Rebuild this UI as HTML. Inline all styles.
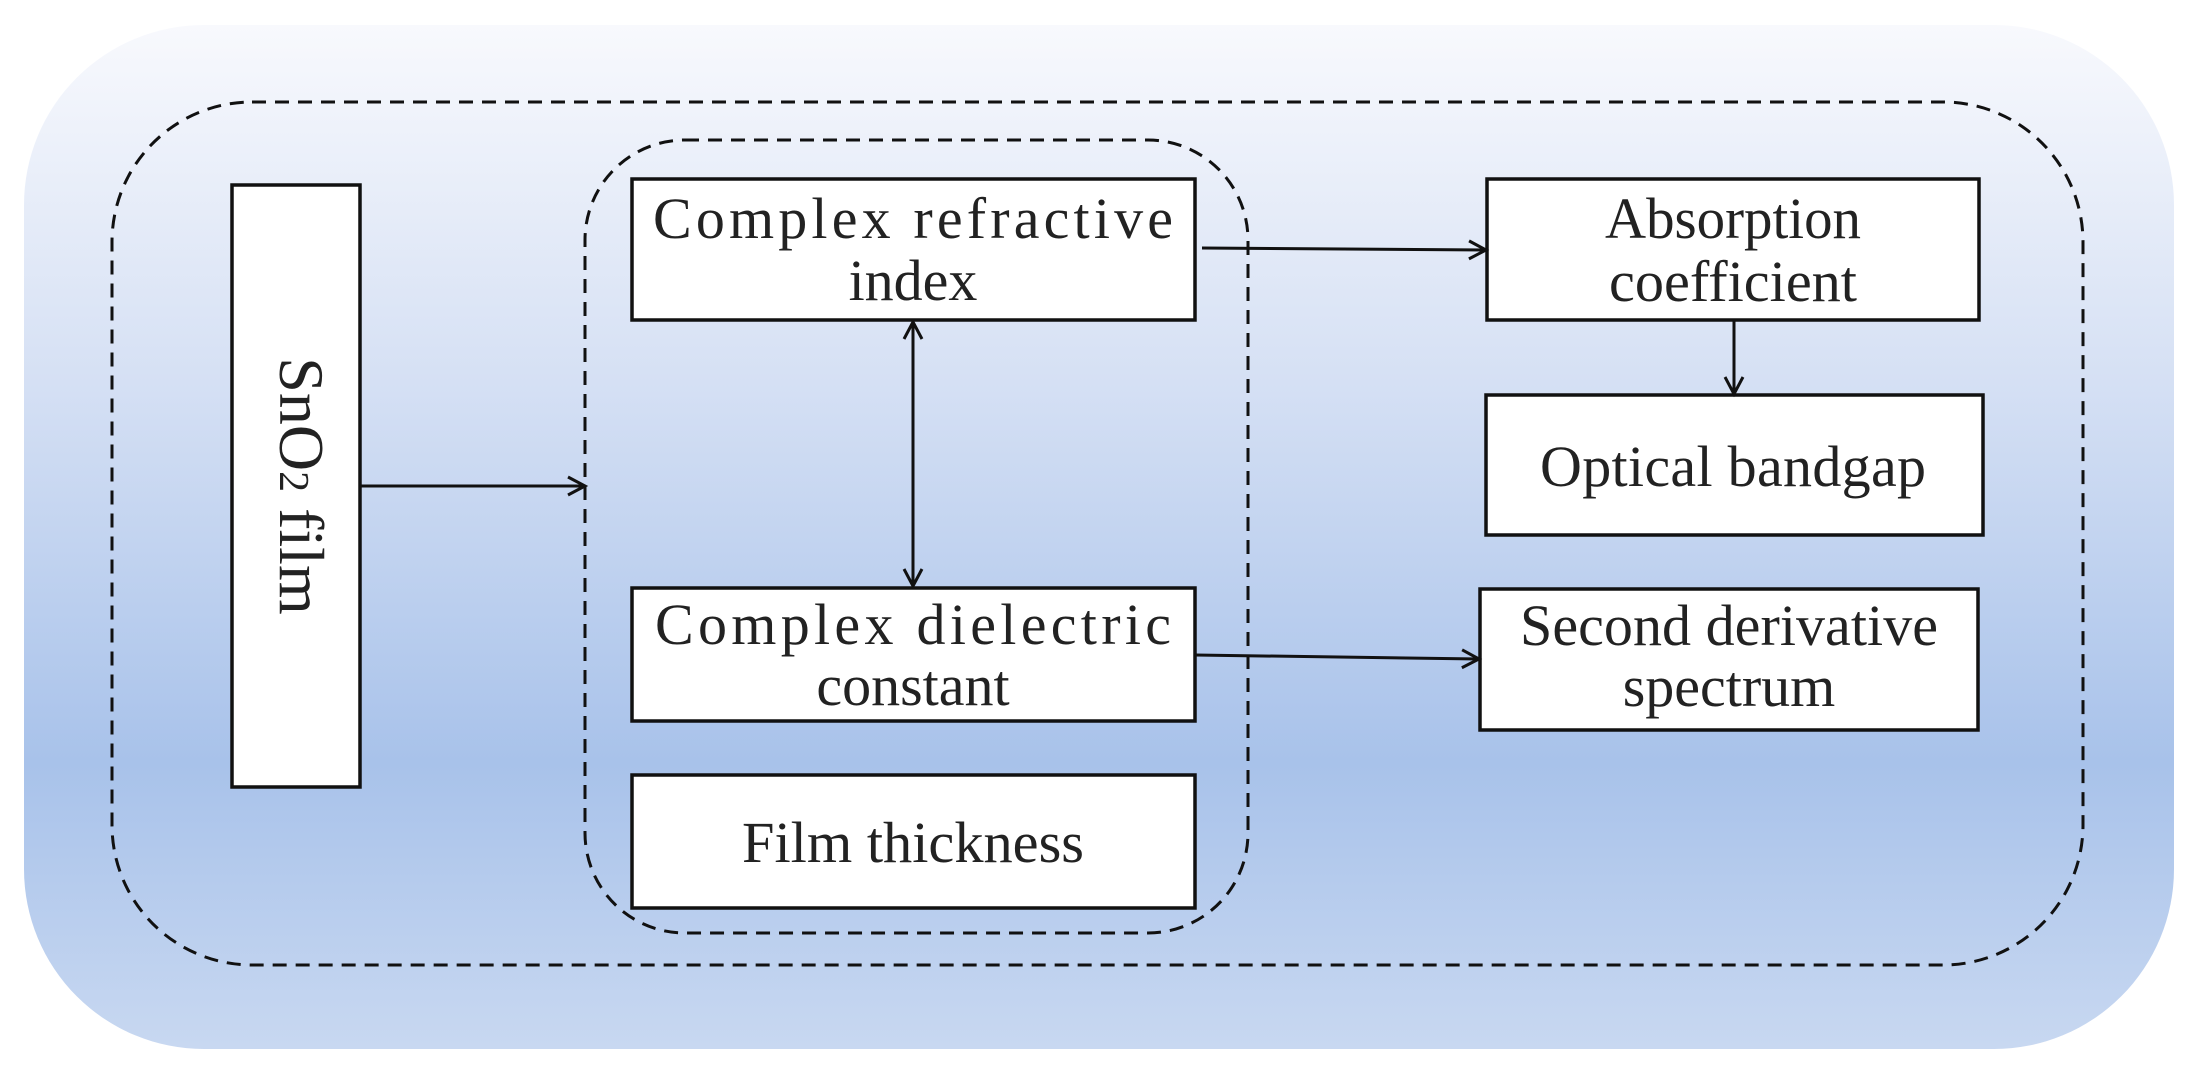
<!DOCTYPE html>
<html><head><style>
html,body{margin:0;padding:0;background:#fff;}
body{width:2199px;height:1078px;position:relative;overflow:hidden;font-family:"Liberation Serif",serif;}
</style></head><body>
<svg width="2199" height="1078" xmlns="http://www.w3.org/2000/svg" style="position:absolute;left:0;top:0">
<defs>
<linearGradient id="g" x1="0" y1="0" x2="0" y2="1">
<stop offset="0" stop-color="#f8f9fd"/>
<stop offset="0.35" stop-color="#d5e0f4"/>
<stop offset="0.72" stop-color="#a8c2ea"/>
<stop offset="1" stop-color="#c8d8f1"/>
</linearGradient>
<marker id="a" markerWidth="24" markerHeight="24" refX="20" refY="12" orient="auto" markerUnits="userSpaceOnUse">
<path d="M3,3 L20,12 L3,21" fill="none" stroke="#111" stroke-width="3"/>
</marker>
<marker id="s" markerWidth="24" markerHeight="24" refX="4" refY="12" orient="auto" markerUnits="userSpaceOnUse">
<path d="M21,3 L4,12 L21,21" fill="none" stroke="#111" stroke-width="3"/>
</marker>
</defs>
<rect x="24" y="25" width="2150" height="1024" rx="180" fill="url(#g)"/>
<rect x="112" y="102" width="1971" height="863" rx="140" fill="none" stroke="#111" stroke-width="3" stroke-dasharray="14,9"/>
<rect x="585" y="140" width="663" height="793" rx="100" fill="none" stroke="#111" stroke-width="3" stroke-dasharray="14,9"/>
<g fill="#fff" stroke="#111" stroke-width="3.5">
<rect x="232" y="185" width="128" height="602"/>
<rect x="632" y="179" width="563" height="141"/>
<rect x="632" y="588" width="563" height="133"/>
<rect x="632" y="775" width="563" height="133"/>
<rect x="1487" y="179" width="492" height="141"/>
<rect x="1486" y="395" width="497" height="140"/>
<rect x="1480" y="589" width="498" height="141"/>
</g>
<g stroke="#111" stroke-width="3" fill="none">
<line x1="360" y1="486" x2="585" y2="486" marker-end="url(#a)"/>
<line x1="1202" y1="248" x2="1486" y2="250" marker-end="url(#a)"/>
<line x1="913" y1="322" x2="913" y2="586" marker-start="url(#s)" marker-end="url(#a)"/>
<line x1="1734" y1="320" x2="1734" y2="394" marker-end="url(#a)"/>
<line x1="1195" y1="655" x2="1479" y2="659" marker-end="url(#a)"/>
</g>
<g font-family="Liberation Serif, serif" font-size="58" fill="#222" text-anchor="middle">
<text x="913" y="238" textLength="520" lengthAdjust="spacing">Complex refractive</text>
<text x="913" y="300">index</text>
<text x="913" y="644" textLength="516" lengthAdjust="spacing">Complex dielectric</text>
<text x="913" y="705">constant</text>
<text x="913" y="862" textLength="342" lengthAdjust="spacingAndGlyphs">Film thickness</text>
<text x="1733" y="238" textLength="256" lengthAdjust="spacingAndGlyphs">Absorption</text>
<text x="1733" y="301" textLength="248" lengthAdjust="spacingAndGlyphs">coefficient</text>
<text x="1733" y="486" textLength="386" lengthAdjust="spacing">Optical bandgap</text>
<text x="1729" y="645" textLength="418" lengthAdjust="spacing">Second derivative</text>
<text x="1729" y="706">spectrum</text>
<text transform="translate(280,486) rotate(90)" font-size="64">SnO<tspan font-size="42">2</tspan> film</text>
</g>
</svg>
</body></html>
